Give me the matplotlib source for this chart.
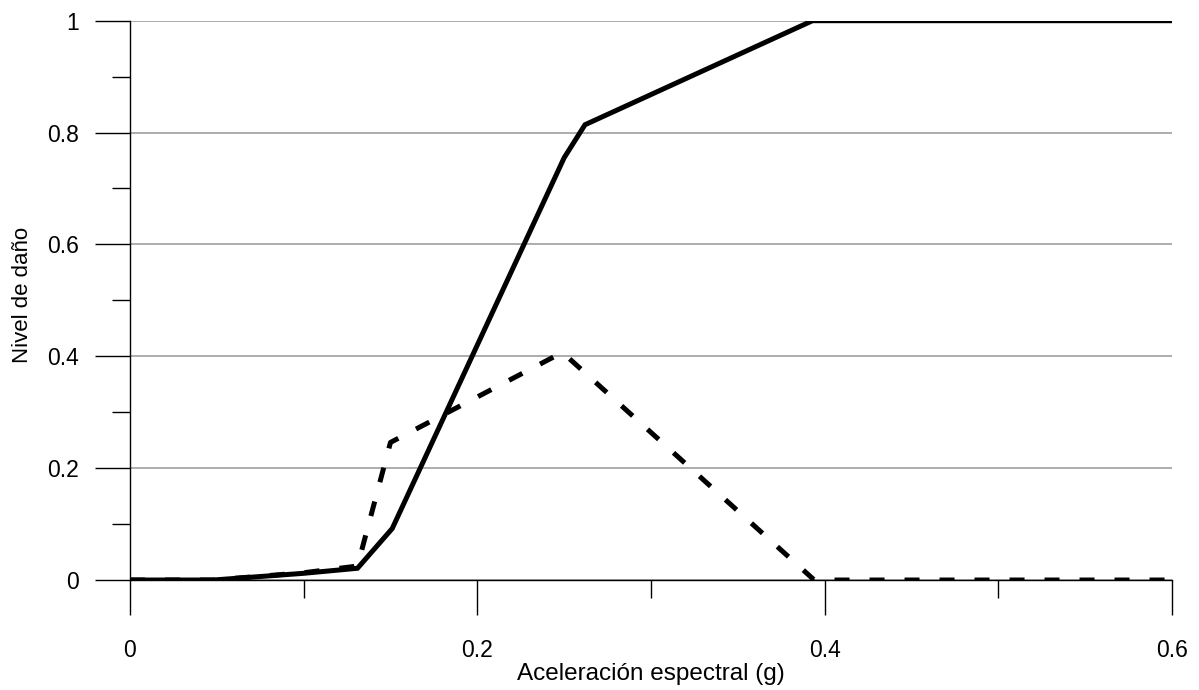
import numpy as np
import matplotlib
matplotlib.use("Agg")
import matplotlib.pyplot as plt
from matplotlib.ticker import MultipleLocator

plt.rcParams['font.family'] = ['Liberation Sans', 'DejaVu Sans']

# Curva continua (nivel de daño medio)
x_solido = [0.0, 0.048, 0.10, 0.131, 0.151, 0.250, 0.262, 0.393, 0.50, 0.60]
y_solido = [0.0, 0.0, 0.012, 0.021, 0.092, 0.755, 0.814, 1.0, 1.0, 1.0]

# Curva discontinua
x_trazos = [0.0, 0.048, 0.10, 0.131, 0.150, 0.249, 0.394, 0.50, 0.60]
y_trazos = [0.0, 0.0, 0.013, 0.025, 0.246, 0.407, 0.0, 0.0, 0.0]

xticks = [0, 0.2, 0.4, 0.6]
xtick_labels = ['0', '0.2', '0.4', '0.6']
yticks = [0, 0.2, 0.4, 0.6, 0.8, 1.0]
ytick_labels = ['0', '0.2', '0.4', '0.6', '0.8', '1']

fig = plt.figure(figsize=(11.99, 6.90), dpi=100)
ax = fig.add_axes([0.1084, 0.1594, 0.8691, 0.8106])

ax.grid(axis='y', color='#a6a6a6', lw=1.3, zorder=0)
ax.plot(x_solido, y_solido, color='k', lw=3.6, solid_joinstyle='miter', zorder=3)
ax.plot(x_trazos, y_trazos, color='k', lw=3.6, dashes=(3.0, 4.0), zorder=3)

ax.set_xlim(0, 0.6)
ax.set_ylim(0, 1)
ax.set_xticks(xticks)
ax.set_xticklabels(xtick_labels)
ax.set_yticks(yticks)
ax.set_yticklabels(ytick_labels)
ax.xaxis.set_minor_locator(MultipleLocator(0.1))
ax.yaxis.set_minor_locator(MultipleLocator(0.1))

ax.tick_params(which='major', length=25, width=1.0, color='k', labelsize=16.5)
ax.tick_params(which='minor', length=13, width=1.0, color='k')
ax.tick_params(axis='y', which='major', pad=12)
ax.tick_params(axis='x', which='major', pad=17.5)

for lado in ['top', 'right']:
    ax.spines[lado].set_visible(False)
for lado in ['left', 'bottom']:
    ax.spines[lado].set_linewidth(1.0)

ax.set_xlabel('Aceleración espectral (g)', fontsize=17.5)
ax.set_ylabel('Nivel de daño', fontsize=16)
ax.xaxis.set_label_coords(0.5, -0.148)
ax.yaxis.set_label_coords(-0.093, 0.509)

fig.savefig('out.png', dpi=100)
